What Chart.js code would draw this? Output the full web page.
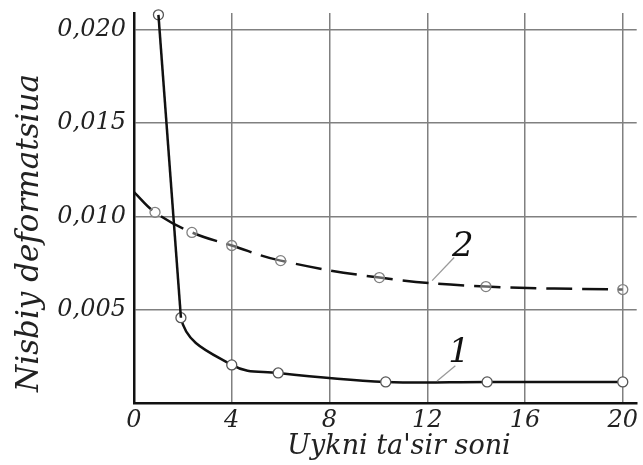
<!DOCTYPE html>
<html><head><meta charset="utf-8">
<script src="https://cdn.jsdelivr.net/npm/chart.js@4.4.1/dist/chart.umd.min.js"></script>
<style>html,body{margin:0;padding:0;background:#fff}#wrap{width:643px;height:465px}</style>
</head><body><div id="wrap"><canvas id="c" width="643" height="465"></canvas></div>
<script>
const xTickValues = [0, 4, 8, 12, 16, 20];
const yTickValues = [0, 0.005, 0.010, 0.015, 0.020];
const curve1X = [1.0, 1.92, 4.0, 5.9, 10.3, 14.45, 20];
const curve1Y = [0.0208, 0.00457, 0.00204, 0.00161, 0.00113, 0.00113, 0.00113];
const curve2X = [0, 0.86, 2.37, 4.0, 6.0, 10.04, 14.4, 20];
const curve2Y = [0.0113, 0.01022, 0.00914, 0.00844, 0.00763, 0.00672, 0.00624, 0.00608];
const curveNames = ['1', '2'];
const xTitle = "Uykni ta'sir soni";
const yTitle = "Nisbiy deformatsiua";

// annotation placement (data coordinates) for the curve numbers
const curveLabelPlacement = [
  { text: curveNames[0], at: [13.3, 0.00269], from: [12.4, 0.00118], to: [13.15, 0.00199] },
  { text: curveNames[1], at: [13.45, 0.00833], from: [12.2, 0.00656], to: [13.1, 0.00780] }
];

const FONT = "'DejaVu Serif'";
const toPoints = (xs, ys) => xs.map((x, i) => ({ x: x, y: ys[i] }));

const overlay = {
  id: 'overlay',
  afterDatasetsDraw(chart) {
    const { ctx, scales } = chart;
    const xs = scales.x, ys = scales.y;
    ctx.save();
    curveLabelPlacement.forEach(l => {
      ctx.strokeStyle = '#9a9a9a';
      ctx.lineWidth = 1.3;
      ctx.beginPath();
      ctx.moveTo(xs.getPixelForValue(l.from[0]), ys.getPixelForValue(l.from[1]));
      ctx.lineTo(xs.getPixelForValue(l.to[0]), ys.getPixelForValue(l.to[1]));
      ctx.stroke();
      ctx.fillStyle = '#111';
      ctx.font = 'italic 34px ' + FONT;
      ctx.textAlign = 'center';
      ctx.textBaseline = 'middle';
      ctx.fillText(l.text, xs.getPixelForValue(l.at[0]), ys.getPixelForValue(l.at[1]));
    });
    // axis titles
    ctx.fillStyle = '#222';
    ctx.font = 'italic 27px ' + FONT;
    ctx.textAlign = 'center';
    ctx.textBaseline = 'middle';
    ctx.fillText(xTitle, 399, 447);
    ctx.translate(30, 233);
    ctx.rotate(-Math.PI / 2);
    ctx.font = 'italic 31px ' + FONT;
    ctx.fillText(yTitle, 0, 0);
    ctx.restore();
  }
};

new Chart(document.getElementById('c'), {
  type: 'line',
  data: {
    datasets: [
      {
        // straight steep drop between the first two points of curve 1
        label: curveNames[0] + 'a',
        data: toPoints(curve1X.slice(0, 2), curve1Y.slice(0, 2)),
        borderColor: '#111',
        borderWidth: 2.5,
        tension: 0,
        pointRadius: 0,
        clip: false
      },
      {
        label: curveNames[0],
        data: toPoints(curve1X, curve1Y),
        borderColor: '#111',
        borderWidth: 2.5,
        tension: 0.4,
        segment: { borderColor: c => c.p0DataIndex === 0 ? 'rgba(0,0,0,0)' : undefined },
        pointRadius: 5,
        pointBackgroundColor: '#fff',
        pointBorderColor: '#555',
        pointBorderWidth: 1.3,
        clip: false
      },
      {
        label: curveNames[1],
        data: toPoints(curve2X, curve2Y),
        borderColor: '#111',
        borderWidth: 2.5,
        borderDash: [26, 10],
        tension: 0.4,
        pointRadius: curve2X.map((v, i) => i === 0 ? 0 : 5),
        pointBackgroundColor: 'rgba(255,255,255,0.35)',
        pointBorderColor: '#808080',
        pointBorderWidth: 1.3,
        clip: false
      }
    ]
  },
  options: {
    responsive: false,
    animation: false,
    devicePixelRatio: 1,
    layout: { padding: { top: 13, right: 5, left: 0, bottom: 0 } },
    plugins: { legend: { display: false }, tooltip: { enabled: false } },
    scales: {
      x: {
        type: 'linear',
        min: 0,
        max: 20.57,
        afterBuildTicks: s => { s.ticks = xTickValues.map(v => ({ value: v })); },
        afterFit: s => { s.height = 62; s.paddingLeft = 0; s.paddingRight = 0; },
        ticks: {
          font: { family: FONT, size: 24, style: 'italic' },
          color: '#222',
          padding: 3,
          maxRotation: 0,
          callback: v => String(v)
        },
        grid: { color: '#808080', lineWidth: 1.5, drawTicks: false },
        border: { color: '#111', width: 2.5 }
      },
      y: {
        type: 'linear',
        min: 0,
        max: 0.0209,
        afterBuildTicks: s => { s.ticks = yTickValues.map(v => ({ value: v })); },
        afterFit: s => { s.width = 134; s.paddingTop = 0; s.paddingBottom = 0; },
        ticks: {
          font: { family: FONT, size: 24, style: 'italic' },
          color: '#222',
          padding: 8,
          callback: v => v === 0 ? '' : v.toFixed(3).replace('.', ',')
        },
        grid: { color: '#808080', lineWidth: 1.5, drawTicks: false },
        border: { color: '#111', width: 2.5 }
      }
    }
  },
  plugins: [overlay]
});
</script>
</body></html>
